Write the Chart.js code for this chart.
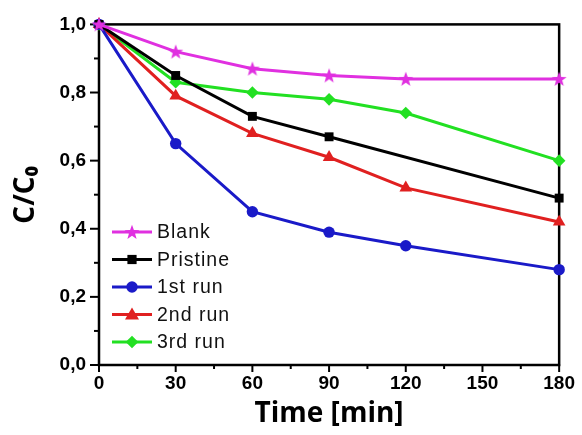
<!DOCTYPE html>
<html>
<head>
<meta charset="utf-8">
<script src="https://cdn.jsdelivr.net/npm/chart.js@4/dist/chart.umd.min.js"></script>
<style>
html,body{margin:0;padding:0;background:#fff;}
#wrap{width:582px;height:435px;}
</style>
</head>
<body>
<div id="wrap"><canvas id="c" width="582" height="435"></canvas></div>
<script>
const times = [0, 30, 60, 90, 120, 180];
const seriesNames = ['Blank', 'Pristine', '1st run', '2nd run', '3rd run'];
const blank = [1.0, 0.92, 0.87, 0.85, 0.84, 0.84];
const pristine = [1.0, 0.85, 0.73, 0.67, null, 0.49];
const run1 = [1.0, 0.65, 0.45, 0.39, 0.35, 0.28];
const run2 = [1.0, 0.79, 0.68, 0.61, 0.52, 0.42];
const run3 = [1.0, 0.83, 0.80, 0.78, 0.74, 0.60];
const xTicks = [0, 30, 60, 90, 120, 150, 180];
const yTicks = [0.0, 0.2, 0.4, 0.6, 0.8, 1.0];

const colors = ['#e030e0', '#000000', '#1a1ac8', '#e02020', '#22e022'];
const styles = ['star', 'rect', 'circle', 'triangle', 'rectRot'];

function starPath(ctx, cx, cy, R, r) {
  ctx.beginPath();
  for (let i = 0; i < 10; i++) {
    const a = -Math.PI / 2 + i * Math.PI / 5;
    const rad = i % 2 === 0 ? R : r;
    const px = cx + rad * Math.cos(a), py = cy + rad * Math.sin(a);
    if (i === 0) ctx.moveTo(px, py); else ctx.lineTo(px, py);
  }
  ctx.closePath();
}
function makeStar(color) {
  const cv = document.createElement('canvas');
  cv.width = 16; cv.height = 16;
  const g = cv.getContext('2d');
  g.fillStyle = color;
  starPath(g, 8, 8.6, 7.8, 3.2);
  g.fill();
  return cv;
}
const starImg = makeStar(colors[0]);

function drawMarker(ctx, style, x, y, color) {
  ctx.save();
  ctx.fillStyle = color;
  ctx.beginPath();
  if (style === 'star') {
    ctx.drawImage(starImg, x - 8, y - 8);
  } else if (style === 'rect') {
    ctx.fillRect(x - 4.6, y - 4.6, 9.2, 9.2);
  } else if (style === 'circle') {
    ctx.arc(x, y, 5.7, 0, Math.PI * 2); ctx.fill();
  } else if (style === 'triangle') {
    ctx.moveTo(x, y - 7); ctx.lineTo(x + 7, y + 5); ctx.lineTo(x - 7, y + 5); ctx.closePath(); ctx.fill();
  } else if (style === 'rectRot') {
    ctx.moveTo(x, y - 6.3); ctx.lineTo(x + 6.3, y); ctx.lineTo(x, y + 6.3); ctx.lineTo(x - 6.3, y); ctx.closePath(); ctx.fill();
  }
  ctx.restore();
}

const allSeries = [blank, pristine, run1, run2, run3];
const datasets = allSeries.map((vals, i) => ({
  label: seriesNames[i],
  data: times.map((t, k) => ({x: t, y: vals[k]})),
  borderColor: colors[i],
  backgroundColor: colors[i],
  borderWidth: 3,
  pointStyle: styles[i] === 'star' ? starImg : styles[i],
  pointRadius: styles[i] === 'circle' ? 5.7 : (styles[i] === 'triangle' ? 7.3 : 6.3),
  pointBorderWidth: 0,
  pointHoverRadius: 6,
  spanGaps: true,
  tension: 0,
  clip: false
}));

const frameAndTicks = {
  id: 'frameAndTicks',
  beforeDatasetsDraw(chart) {
    const {ctx, chartArea: a, scales} = chart;
    ctx.save();
    ctx.strokeStyle = '#000';
    ctx.lineWidth = 2.5;
    ctx.strokeRect(a.left, a.top, a.right - a.left, a.bottom - a.top);
    ctx.lineWidth = 2;
    for (let v = 0; v <= 180; v += 15) {
      const px = scales.x.getPixelForValue(v);
      const len = (v % 30 === 0) ? 7 : 4;
      ctx.beginPath(); ctx.moveTo(px, a.bottom - 1); ctx.lineTo(px, a.bottom + len); ctx.stroke();
    }
    for (let k = 0; k <= 10; k++) {
      const v = k / 10;
      const py = scales.y.getPixelForValue(v);
      const len = (k % 2 === 0) ? 9 : 5;
      ctx.beginPath(); ctx.moveTo(a.left + 1, py); ctx.lineTo(a.left - len, py); ctx.stroke();
    }
    ctx.restore();
  },
  afterDatasetsDraw(chart) {
    const {ctx} = chart;
    ctx.save();
    const x0 = 112, x1 = 152, tx = 157;
    const ys = [232, 259.5, 287, 314.5, 342];
    seriesNames.forEach((name, i) => {
      const y = ys[i];
      ctx.strokeStyle = colors[i];
      ctx.lineWidth = 3;
      ctx.beginPath(); ctx.moveTo(x0, y); ctx.lineTo(x1, y); ctx.stroke();
      drawMarker(ctx, styles[i], (x0 + x1) / 2, y, colors[i]);
      ctx.fillStyle = '#111';
      ctx.font = '19.5px "Liberation Sans", Arial, sans-serif';
      try { ctx.letterSpacing = '1px'; } catch (e) {}
      ctx.textBaseline = 'middle';
      ctx.textAlign = 'left';
      ctx.fillText(name, tx, y + 1);
    });
    ctx.restore();
  }
};

new Chart(document.getElementById('c'), {
  type: 'line',
  data: {datasets},
  options: {
    responsive: false,
    animation: false,
    devicePixelRatio: 1,
    layout: {padding: {top: 23, right: 20, left: 0, bottom: 0}},
    plugins: {legend: {display: false}, tooltip: {enabled: false}},
    scales: {
      x: {
        type: 'linear', min: 0, max: 180,
        afterFit(s) { s.height = 70; },
        afterBuildTicks(s) { s.ticks = xTicks.map(v => ({value: v})); },
        grid: {display: false, drawTicks: false},
        border: {display: false},
        ticks: {color: '#000', padding: 7, font: {family: '"Liberation Sans", Arial, sans-serif', size: 19, weight: 'bold'}, maxRotation: 0, autoSkip: false},
        title: {display: true, text: 'Time [min]', color: '#000', padding: {top: 0, bottom: 4}, font: {family: '"Open Sans", sans-serif', size: 28, weight: 'bold'}}
      },
      y: {
        type: 'linear', min: 0, max: 1,
        afterFit(s) { s.width = 99; },
        afterBuildTicks(s) { s.ticks = yTicks.map(v => ({value: v})); },
        grid: {display: false, drawTicks: false},
        border: {display: false},
        ticks: {color: '#000', padding: 13, font: {family: '"Liberation Sans", Arial, sans-serif', size: 19, weight: 'bold'},
          callback: v => v.toFixed(1).replace('.', ',')},
        title: {display: true, text: 'C/C₀', color: '#000', padding: {top: 9, bottom: 0}, font: {family: '"Open Sans", sans-serif', size: 28, weight: 'bold'}}
      }
    }
  },
  plugins: [frameAndTicks]
});
</script>
</body>
</html>
